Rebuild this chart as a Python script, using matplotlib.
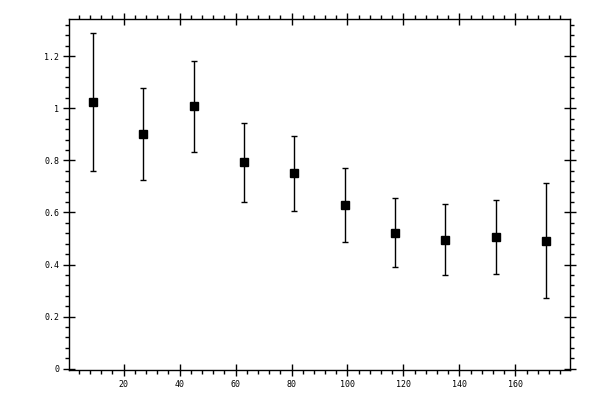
import matplotlib
matplotlib.use("Agg")
import matplotlib.pyplot as plt
from matplotlib.ticker import MultipleLocator, FuncFormatter

# データ
x = [9, 27, 45, 63, 81, 99, 117, 135, 153, 171]
y = [1.023, 0.900, 1.008, 0.792, 0.750, 0.627, 0.523, 0.496, 0.504, 0.492]
err = [0.265, 0.177, 0.175, 0.152, 0.144, 0.142, 0.133, 0.135, 0.142, 0.221]

fig = plt.figure(figsize=(6, 4), dpi=100)
ax = fig.add_axes([0.115, 0.075, 0.835, 0.8775])

ax.errorbar(x, y, yerr=err, fmt="s", color="black", markersize=5.8,
            elinewidth=1.0, capsize=2.0, capthick=1.0)

ax.set_xlim(0.45, 179.55)
ax.set_ylim(-0.005, 1.343)

ax.xaxis.set_major_locator(MultipleLocator(20))
ax.xaxis.set_minor_locator(MultipleLocator(4))
ax.yaxis.set_major_locator(MultipleLocator(0.2))
ax.yaxis.set_minor_locator(MultipleLocator(0.04))


def fmt(v, pos):
    s = "%g" % round(v, 2)
    return s


ax.xaxis.set_major_formatter(FuncFormatter(lambda v, p: "" if v == 0 else fmt(v, p)))
ax.yaxis.set_major_formatter(FuncFormatter(fmt))

ax.tick_params(which="both", top=True, right=True, labeltop=False, labelright=False,
               width=1.0, colors="black")
ax.tick_params(which="major", direction="inout", length=8, labelsize=6, pad=3)
ax.tick_params(which="minor", direction="out", length=3)

for lab in ax.get_xticklabels() + ax.get_yticklabels():
    lab.set_family("DejaVu Sans Mono")

for sp in ax.spines.values():
    sp.set_linewidth(1.0)

plt.savefig("out.png", dpi=100)
